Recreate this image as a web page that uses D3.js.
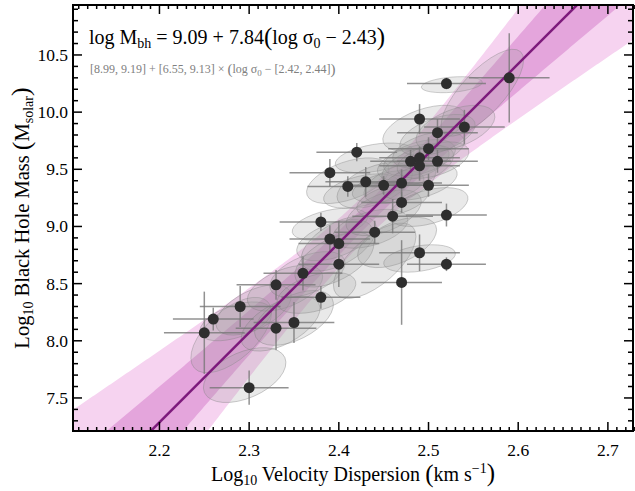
<!DOCTYPE html>
<html>
<head>
<meta charset="utf-8">
<script src="https://cdn.jsdelivr.net/npm/d3@7/dist/d3.min.js"></script>
<style>
  body { margin: 0; background: #fff; }
  svg text { font-family: "Liberation Serif", "DejaVu Serif", serif; }
</style>
</head>
<body>
<div id="chart"></div>
<script>
const width = 635;
const height = 491;
const margin = {left: 73, top: 5, right: 2, bottom: 60};

// measured points: log sigma, log Mbh and their errors
const logSigma = [2.25, 2.26, 2.29, 2.30, 2.33, 2.33, 2.35, 2.36, 2.38, 2.38, 2.39, 2.39, 2.40, 2.40, 2.41, 2.42, 2.43, 2.44, 2.45,
    2.46, 2.47, 2.47, 2.47, 2.48, 2.49, 2.49, 2.49, 2.49, 2.50, 2.50, 2.51, 2.51, 2.52, 2.52, 2.52, 2.54, 2.59];
const logMbh = [8.07, 8.19, 8.30, 7.59, 8.49, 8.11, 8.16, 8.59, 8.38, 9.04, 9.47, 8.89, 8.85, 8.67, 9.35, 9.65, 9.39, 8.95, 9.36,
    9.09, 9.21, 9.38, 8.51, 9.57, 9.60, 9.53, 9.94, 8.77, 9.36, 9.68, 9.57, 9.82, 10.25, 9.10, 8.67, 9.87, 10.30];
const sigmaErr = [0.045, 0.045, 0.045, 0.044, 0.044, 0.045, 0.045, 0.044, 0.044, 0.046, 0.045, 0.045, 0.045, 0.045, 0.045, 0.045, 0.045, 0.045, 0.045,
    0.045, 0.045, 0.045, 0.045, 0.045, 0.045, 0.045, 0.045, 0.045, 0.045, 0.045, 0.045, 0.045, 0.044, 0.045, 0.044, 0.045, 0.045];
const mbhErr = [0.36, 0.10, 0.18, 0.15, 0.13, 0.19, 0.18, 0.15, 0.10, 0.08, 0.12, 0.12, 0.20, 0.20, 0.09, 0.08, 0.13, 0.10, 0.08,
    0.15, 0.09, 0.12, 0.37, 0.10, 0.10, 0.13, 0.13, 0.16, 0.10, 0.10, 0.10, 0.12, 0.05, 0.10, 0.06, 0.15, 0.39];

// posterior ellipses: centre, half extents and correlation
const ellSigma = [2.28, 2.285, 2.305, 2.295, 2.34, 2.335, 2.35, 2.365, 2.375, 2.39, 2.41, 2.395, 2.40, 2.395, 2.425, 2.44, 2.44, 2.435, 2.455,
    2.45, 2.46, 2.468, 2.44, 2.483, 2.49, 2.488, 2.495, 2.465, 2.49, 2.50, 2.505, 2.51, 2.526, 2.50, 2.49, 2.53, 2.56];
const ellMbh = [8.05, 8.17, 8.27, 7.70, 8.46, 8.15, 8.20, 8.58, 8.42, 9.02, 9.40, 8.88, 8.85, 8.71, 9.31, 9.60, 9.36, 8.98, 9.35,
    9.12, 9.23, 9.38, 8.70, 9.56, 9.60, 9.53, 9.86, 8.86, 9.39, 9.67, 9.58, 9.80, 10.24, 9.17, 8.72, 9.86, 10.17];
const ellW = [0.045, 0.040, 0.042, 0.046, 0.042, 0.044, 0.044, 0.042, 0.044, 0.042, 0.046, 0.042, 0.042, 0.044, 0.042, 0.044, 0.042, 0.042, 0.040,
    0.042, 0.040, 0.040, 0.046, 0.040, 0.040, 0.040, 0.046, 0.044, 0.042, 0.040, 0.040, 0.042, 0.034, 0.044, 0.040, 0.044, 0.046];
const ellH = [0.33, 0.17, 0.22, 0.24, 0.20, 0.24, 0.24, 0.20, 0.18, 0.14, 0.20, 0.18, 0.24, 0.24, 0.15, 0.13, 0.20, 0.17, 0.14,
    0.20, 0.15, 0.18, 0.33, 0.16, 0.16, 0.18, 0.20, 0.22, 0.16, 0.16, 0.16, 0.18, 0.07, 0.17, 0.12, 0.20, 0.38];
const ellRho = [0.6, 0.5, 0.55, 0.45, 0.5, 0.55, 0.5, 0.5, 0.45, 0.45, 0.5, 0.5, 0.55, 0.55, 0.45, 0.4, 0.5, 0.45, 0.45,
    0.5, 0.45, 0.5, 0.65, 0.45, 0.45, 0.5, 0.5, 0.5, 0.45, 0.45, 0.45, 0.5, 0.3, 0.45, 0.35, 0.5, 0.75];

// fit: best values and 1-sigma ranges
const fitIntercept = 9.09, fitSlope = 7.84, fitPivot = 2.43;
const interceptRange = [8.99, 9.19];
const slopeRange = [6.55, 9.13];
const pivotRange = [2.42, 2.44];

const xTicks = [2.2, 2.3, 2.4, 2.5, 2.6, 2.7];
const yTicks = [7.5, 8.0, 8.5, 9.0, 9.5, 10.0, 10.5];

const xDomain = [2.1036, 2.728];
const yDomain = [7.211, 10.937];

let svg = d3.select("#chart").append("svg")
    .attr("width", width)
    .attr("height", height);

const innerW = width - margin.left - margin.right;
const innerH = height - margin.top - margin.bottom;

let xScale = d3.scaleLinear().domain(xDomain).range([margin.left, margin.left + innerW]);
let yScale = d3.scaleLinear().domain(yDomain).range([margin.top + innerH, margin.top]);

svg.append("defs").append("clipPath").attr("id", "clip")
    .append("rect")
    .attr("x", margin.left).attr("y", margin.top)
    .attr("width", innerW).attr("height", innerH);

let plot = svg.append("g").attr("clip-path", "url(#clip)");

// confidence bands
const sa = (interceptRange[1] - interceptRange[0]) / 2;
const sb = (slopeRange[1] - slopeRange[0]) / 2;
const lineY = x => fitIntercept + fitSlope * (x - fitPivot);
const halfW = x => Math.sqrt(sa * sa + sb * sb * (x - fitPivot) * (x - fitPivot));
const xs = d3.range(xDomain[0] - 0.02, xDomain[1] + 0.02, 0.002);

[[2, "#f6d3f0"], [1, "#e4a5dc"]].forEach(([k, col]) => {
    plot.append("path")
        .datum(xs)
        .attr("fill", col)
        .attr("d", d3.area()
            .x(d => xScale(d))
            .y0(d => yScale(lineY(d) - k * halfW(d)))
            .y1(d => yScale(lineY(d) + k * halfW(d))));
});

// ellipses
const kx = xScale(1) - xScale(0);
const ky = yScale(0) - yScale(1);
plot.append("g").selectAll("ellipse")
    .data(d3.range(ellSigma.length))
    .join("ellipse")
    .each(function(i) {
        const sx = ellW[i] * kx, sy = ellH[i] * ky;
        const a = sx * sx, c = sy * sy, b = -ellRho[i] * sx * sy;
        const m = (a + c) / 2, r = Math.sqrt(((a - c) / 2) ** 2 + b * b);
        const ang = 0.5 * Math.atan2(2 * b, a - c) * 180 / Math.PI;
        d3.select(this)
            .attr("rx", Math.sqrt(m + r))
            .attr("ry", Math.sqrt(Math.max(m - r, 1)))
            .attr("transform", `translate(${xScale(ellSigma[i])},${yScale(ellMbh[i])}) rotate(${ang})`);
    })
    .attr("fill", "#9a9a9a")
    .attr("fill-opacity", 0.22)
    .attr("stroke", "#808080")
    .attr("stroke-opacity", 0.45)
    .attr("stroke-width", 0.8);

// error bars
let bars = plot.append("g")
    .attr("stroke", "#777")
    .attr("stroke-opacity", 0.8)
    .attr("stroke-width", 1.5);
bars.selectAll("line.h")
    .data(d3.range(logSigma.length))
    .join("line").attr("class", "h")
    .attr("x1", i => xScale(logSigma[i] - sigmaErr[i]))
    .attr("x2", i => xScale(logSigma[i] + sigmaErr[i]))
    .attr("y1", i => yScale(logMbh[i]))
    .attr("y2", i => yScale(logMbh[i]));
bars.selectAll("line.v")
    .data(d3.range(logSigma.length))
    .join("line").attr("class", "v")
    .attr("x1", i => xScale(logSigma[i]))
    .attr("x2", i => xScale(logSigma[i]))
    .attr("y1", i => yScale(logMbh[i] - mbhErr[i]))
    .attr("y2", i => yScale(logMbh[i] + mbhErr[i]));

// best fit line
plot.append("line")
    .attr("x1", xScale(xDomain[0])).attr("y1", yScale(lineY(xDomain[0])))
    .attr("x2", xScale(xDomain[1])).attr("y2", yScale(lineY(xDomain[1])))
    .attr("stroke", "#7d1a7c")
    .attr("stroke-width", 2.5);

// points
plot.append("g").selectAll("circle")
    .data(d3.range(logSigma.length))
    .join("circle")
    .attr("cx", i => xScale(logSigma[i]))
    .attr("cy", i => yScale(logMbh[i]))
    .attr("r", 5.5)
    .attr("fill", "#2e2e2e");

// frame and ticks (inward, all four sides)
const x0 = margin.left, x1 = margin.left + innerW, y0 = margin.top, y1 = margin.top + innerH;
let axes = svg.append("g").attr("stroke", "#000");
const xMinor = d3.range(2.11, 2.73, 0.01).map(v => +v.toFixed(2));
const yMinor = d3.range(7.3, 10.95, 0.1).map(v => +v.toFixed(1));
xMinor.forEach(v => {
    const major = xTicks.some(t => Math.abs(t - v) < 1e-6);
    const len = major ? 9 : 4;
    const px = xScale(v);
    axes.append("line").attr("x1", px).attr("x2", px).attr("y1", y1).attr("y2", y1 - len).attr("stroke-width", 1.5);
    axes.append("line").attr("x1", px).attr("x2", px).attr("y1", y0).attr("y2", y0 + len).attr("stroke-width", 1.5);
});
yMinor.forEach(v => {
    const major = yTicks.some(t => Math.abs(t - v) < 1e-6);
    const len = major ? 9 : 5;
    const py = yScale(v);
    axes.append("line").attr("x1", x0).attr("x2", x0 + len).attr("y1", py).attr("y2", py).attr("stroke-width", 1.5);
    axes.append("line").attr("x1", x1).attr("x2", x1 - len).attr("y1", py).attr("y2", py).attr("stroke-width", 1.5);
});
svg.append("rect")
    .attr("x", x0).attr("y", y0).attr("width", innerW).attr("height", innerH)
    .attr("fill", "none").attr("stroke", "#000").attr("stroke-width", 2);

// tick labels
svg.append("g").selectAll("text")
    .data(xTicks).join("text")
    .attr("x", d => xScale(d)).attr("y", y1 + 25)
    .attr("text-anchor", "middle")
    .style("font-size", "17.5px")
    .text(d => d.toFixed(1));
svg.append("g").selectAll("text")
    .data(yTicks).join("text")
    .attr("x", x0 - 5).attr("y", d => yScale(d) + 6)
    .attr("text-anchor", "end")
    .style("font-size", "17.5px")
    .text(d => d.toFixed(1));

// axis titles
let xl = svg.append("text")
    .attr("x", (x0 + x1) / 2).attr("y", 481)
    .attr("text-anchor", "middle")
    .style("font-size", "20px");
xl.append("tspan").text("Log");
xl.append("tspan").attr("dy", 4).style("font-size", "14px").text("10");
xl.append("tspan").attr("dy", -4).text(" Velocity Dispersion ");
xl.append("tspan").style("font-size", "25px").attr("dy", 1).text("(");
xl.append("tspan").attr("dy", -1).text("km s");
xl.append("tspan").attr("dy", -8).style("font-size", "14px").text("−1");
xl.append("tspan").attr("dy", 8).style("font-size", "25px").text(")");

let yl = svg.append("text")
    .attr("transform", `translate(29, ${(y0 + y1) / 2}) rotate(-90)`)
    .attr("text-anchor", "middle")
    .style("font-size", "20.5px");
yl.append("tspan").text("Log");
yl.append("tspan").attr("dy", 4).style("font-size", "14px").text("10");
yl.append("tspan").attr("dy", -4).text(" Black Hole Mass ");
yl.append("tspan").style("font-size", "26px").attr("dy", 1).text("(");
yl.append("tspan").attr("dy", -1).text("M");
yl.append("tspan").attr("dy", 4).style("font-size", "14px").text("solar");
yl.append("tspan").attr("dy", -4).style("font-size", "26px").text(")");

// fit equation
let eq = svg.append("text")
    .attr("x", 89).attr("y", 44)
    .style("font-size", "20px");
eq.append("tspan").text("log M");
eq.append("tspan").attr("dy", 4).style("font-size", "14px").text("bh");
eq.append("tspan").attr("dy", -4).text(` = ${fitIntercept.toFixed(2)} + ${fitSlope.toFixed(2)}`);
eq.append("tspan").style("font-size", "25px").attr("dy", 1).text("(");
eq.append("tspan").attr("dy", -1).text("log σ");
eq.append("tspan").attr("dy", 4).style("font-size", "14px").text("0");
eq.append("tspan").attr("dy", -4).text(` − ${fitPivot.toFixed(2)}`);
eq.append("tspan").style("font-size", "25px").attr("dy", 1).text(")");

let rng = svg.append("text")
    .attr("x", 90).attr("y", 73)
    .attr("fill", "#808080")
    .style("font-size", "12px");
rng.append("tspan").text(`[${interceptRange[0].toFixed(2)}, ${interceptRange[1].toFixed(2)}] + [${slopeRange[0].toFixed(2)}, ${slopeRange[1].toFixed(2)}] × `);
rng.append("tspan").style("font-size", "15px").attr("dy", 1).text("(");
rng.append("tspan").attr("dy", -1).text("log σ");
rng.append("tspan").attr("dy", 3).style("font-size", "9px").text("0");
rng.append("tspan").attr("dy", -3).text(` − [${pivotRange[0].toFixed(2)}, ${pivotRange[1].toFixed(2)}]`);
rng.append("tspan").style("font-size", "15px").attr("dy", 1).text(")");
</script>
</body>
</html>
